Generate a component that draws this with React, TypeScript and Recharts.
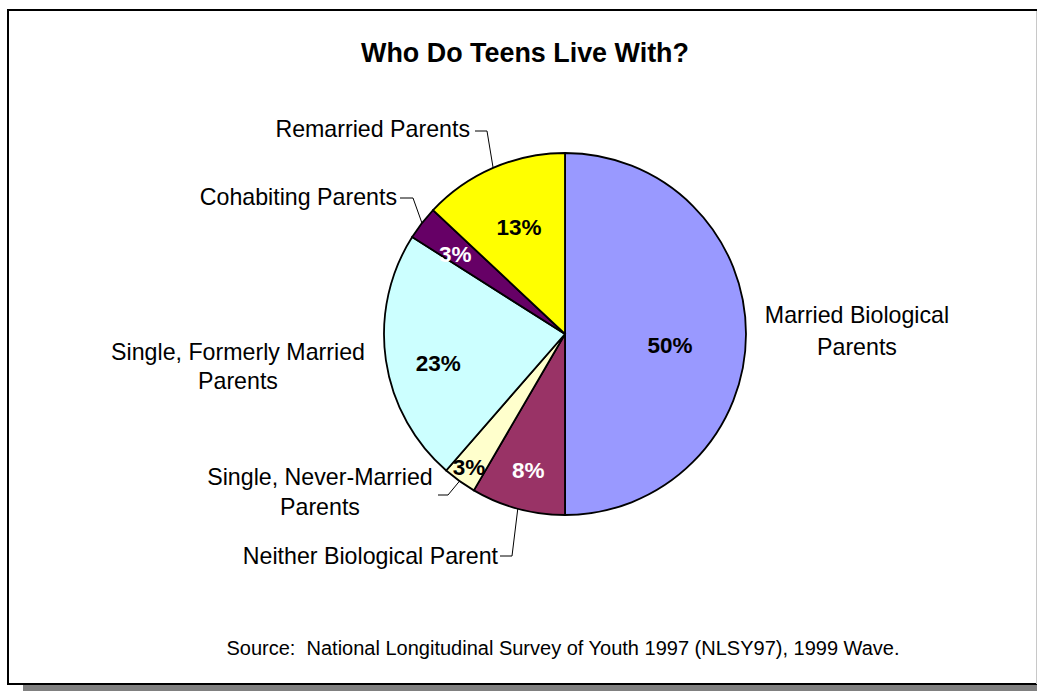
import React from "react";
import { PieChart, Pie, Cell } from "recharts";

// slice data, clockwise from 12 o'clock
const categories = [
  "Married Biological Parents",
  "Neither Biological Parent",
  "Single, Never-Married Parents",
  "Single, Formerly Married Parents",
  "Cohabiting Parents",
  "Remarried Parents",
];
const shares = [50, 8.4, 3.0, 22.6, 3.0, 13.0];

// label text split into lines
const labelLines = [
  ["Married Biological", "Parents"],
  ["Neither Biological Parent"],
  ["Single, Never-Married", "Parents"],
  ["Single, Formerly Married", "Parents"],
  ["Cohabiting Parents"],
  ["Remarried Parents"],
];

const colors = ["#9999FF", "#993366", "#FFFFCC", "#CCFFFF", "#660066", "#FFFF00"];
const pctColors = ["#000", "#fff", "#000", "#000", "#fff", "#000"];

// where the % label sits: fraction of radius, angle nudge
const pctPos = [
  { r: 0.584, da: -6.5 },
  { r: 0.78, da: 0 },
  { r: 0.91, da: 0 },
  { r: 0.72, da: 5 },
  { r: 0.75, da: 1.8 },
  { r: 0.64, da: 0 },
];

// outside labels, offsets from pie centre
const namePos: any[] = [
  { x: 292, ys: [-11, 21], anchor: "middle" },
  { x: -67, ys: [230], anchor: "end", elbow: [-53, 222], end: [-65, 222] },
  { x: -245, ys: [151, 181], anchor: "middle", elbow: [-117, 161], end: [-127, 161] },
  { x: -327, ys: [26, 55], anchor: "middle" },
  { x: -168, ys: [-129], anchor: "end", elbow: [-152, -136], end: [-165, -136] },
  { x: -95, ys: [-197], anchor: "end", elbow: [-78, -203], end: [-90, -203] },
];

const data = categories.map((name, i) => ({ name, value: shares[i] }));

const FONT = "'Liberation Sans', Arial, sans-serif";
const RAD = Math.PI / 180;

const renderLabel = (props: any) => {
  const { cx, cy, midAngle, outerRadius, percent, index } = props;
  const p = pctPos[index];
  const a = (midAngle + p.da) * RAD;
  const px = cx + outerRadius * p.r * Math.cos(a);
  const py = cy - outerRadius * p.r * Math.sin(a);
  const n = namePos[index];
  const ex = cx + outerRadius * Math.cos(midAngle * RAD);
  const ey = cy - outerRadius * Math.sin(midAngle * RAD);
  return (
    <g>
      <text
        x={px}
        y={py}
        textAnchor="middle"
        dominantBaseline="central"
        fontFamily={FONT}
        fontWeight="bold"
        fontSize={22.5}
        fill={pctColors[index]}
      >
        {Math.round(percent * 100) + "%"}
      </text>
      {n.elbow && (
        <polyline
          points={`${ex},${ey} ${cx + n.elbow[0]},${cy + n.elbow[1]} ${cx + n.end[0]},${cy + n.end[1]}`}
          fill="none"
          stroke="#000"
          strokeWidth={1}
        />
      )}
      {labelLines[index].map((line, j) => (
        <text
          key={j}
          x={cx + n.x}
          y={cy + n.ys[j]}
          textAnchor={n.anchor}
          fontFamily={FONT}
          fontSize={23.2}
          fill="#000"
        >
          {line}
        </text>
      ))}
    </g>
  );
};

export default function App() {
  return (
    <div
      style={{
        position: "absolute",
        left: 0,
        top: 0,
        width: 1037,
        height: 691,
        overflow: "hidden",
        background: "#fff",
      }}
    >
      <div
        style={{
          position: "absolute",
          left: 7,
          top: 9,
          width: 1040,
          height: 672,
          border: "2px solid #000",
          boxShadow: "16px 7px 0 #808080",
          background: "#fff",
        }}
      />
      <div style={{ position: "absolute", left: 1036, top: 11, width: 1, height: 673, background: "#c8c8c8" }} />
      <div style={{ position: "absolute", left: 0, top: 0 }}>
        <PieChart width={1037} height={691} margin={{ top: 0, right: 0, bottom: 0, left: 0 }}>
          <Pie
            data={data}
            dataKey="value"
            nameKey="name"
            cx={565}
            cy={334}
            outerRadius={181}
            startAngle={90}
            endAngle={-270}
            stroke="#000"
            strokeWidth={1.8}
            label={renderLabel}
            labelLine={false}
            isAnimationActive={false}
          >
            {data.map((d, i) => (
              <Cell key={d.name} fill={colors[i]} />
            ))}
          </Pie>
        </PieChart>
      </div>
      <svg
        width={1037}
        height={691}
        style={{ position: "absolute", left: 0, top: 0, pointerEvents: "none" }}
      >
        <text x={525} y={62} textAnchor="middle" fontFamily={FONT} fontWeight="bold" fontSize={26.9}>
          Who Do Teens Live With?
        </text>
        <text
          x={563}
          y={655}
          textAnchor="middle"
          fontFamily={FONT}
          fontSize={20}
          style={{ whiteSpace: "pre" }}
        >
          {"Source:  National Longitudinal Survey of Youth 1997 (NLSY97), 1999 Wave."}
        </text>
      </svg>
    </div>
  );
}
